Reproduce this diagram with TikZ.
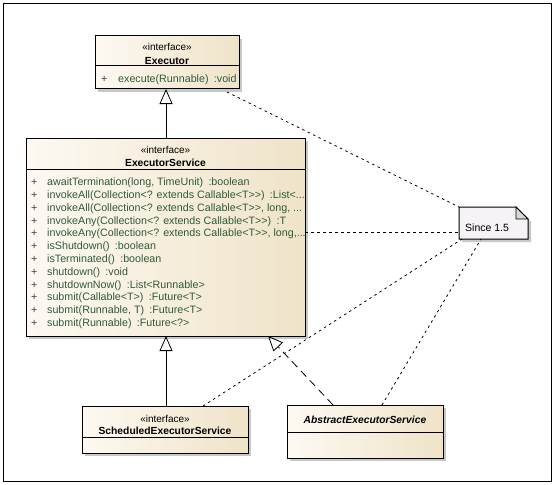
\documentclass[tikz,border=0pt]{standalone}
\usepackage{fontspec}
\setmainfont{Liberation Sans}
\usetikzlibrary{arrows.meta,shadows,calc}
\definecolor{boxL}{HTML}{FDF9F2}
\definecolor{boxR}{HTML}{EFE3C8}
\definecolor{mtext}{HTML}{2F5A3A}
\definecolor{notefill}{HTML}{F5F3F5}
\definecolor{foldfill}{HTML}{D6D6D6}
\definecolor{shadowc}{HTML}{C8C8C8}
\newcommand{\tdots}{...}
\newcommand{\gtgt}{>{}>}
\begin{document}
\begin{tikzpicture}[x=1pt,y=-1pt,
  umlbox/.style={draw=black, line width=1pt, left color=boxL, right color=boxR,
    anchor=north west, inner sep=0pt, outer sep=0pt,
    drop shadow={shadow xshift=3pt, shadow yshift=-3pt, fill=shadowc, opacity=1}},
  sep/.style={draw=black, line width=1pt},
  stereo/.style={font=\fontsize{10}{12}\selectfont, inner sep=0pt, anchor=base},
  cname/.style={font=\bfseries\fontsize{10.3}{12}\selectfont, inner sep=0pt, anchor=base},
  meth/.style={font=\fontsize{10.7}{12}\selectfont, text=mtext, inner sep=0pt, anchor=base west},
  plus/.style={font=\fontsize{10.7}{12}\selectfont, text=black!75, inner sep=0pt, anchor=base west},
  notetext/.style={font=\fontsize{10.5}{12}\selectfont, inner sep=0pt, anchor=base west},
  gen/.style={line width=0.8pt, -{Triangle[open, length=15pt, width=13pt]}},
  real/.style={line width=0.8pt, dash pattern=on 8pt off 5pt, -{Triangle[open, length=15pt, width=13pt]}},
  notelink/.style={line width=0.8pt, dash pattern=on 2.5pt off 3.5pt}]
\useasboundingbox (0,0) rectangle (553,484);
\draw[line width=1pt] (3.5,3.5) rectangle (551.5,481.5);

% Executor
\node[umlbox, minimum width=144pt, minimum height=53pt] (exec) at (95,36) {};
\draw[sep] (exec.west |- 0,66) -- (exec.east |- 0,66);
\node[stereo] (execst) at (167,50.7) {«interface»};
\node[cname] (execnm) at (167,64.7) {Executor};
\node[plus] (execp) at (101,82.7) {+};
\node[meth] (execm) at (118,82.7) {execute(Runnable)\enspace:void};

% ExecutorService
\node[umlbox, minimum width=279pt, minimum height=198pt] (esvc) at (26,138) {};
\draw[sep] (esvc.west |- 0,169) -- (esvc.east |- 0,169);
\node[stereo] (esst) at (165.5,153.7) {«interface»};
\node[cname] (esnm) at (165.5,166.7) {ExecutorService};
\foreach \t [count=\i] in {
  {awaitTermination(long, TimeUnit)\enspace:boolean},
  {invokeAll(Collection<? extends Callable<T\gtgt)\enspace:List<\tdots},
  {invokeAll(Collection<? extends Callable<T\gtgt, long, \tdots},
  {invokeAny(Collection<? extends Callable<T\gtgt)\enspace:T},
  {invokeAny(Collection<? extends Callable<T\gtgt, long,\tdots},
  {isShutdown()\enspace:boolean},
  {isTerminated()\enspace:boolean},
  {shutdown()\enspace:void},
  {shutdownNow()\enspace:List<Runnable>},
  {submit(Callable<T>)\enspace:Future<T>},
  {submit(Runnable, T)\enspace:Future<T>},
  {submit(Runnable)\enspace:Future<?>}} {
  \node[plus] (esp\i) at (31,{185.7+(\i-1)*12.8}) {+};
  \node[meth] (esm\i) at (47,{185.7+(\i-1)*12.8}) {\t};
}

% ScheduledExecutorService
\node[umlbox, minimum width=166pt, minimum height=47pt] (sched) at (82,406) {};
\draw[sep] (sched.west |- 0,437) -- (sched.east |- 0,437);
\node[stereo] (schst) at (165,422.7) {«interface»};
\node[cname] (schnm) at (165,434.7) {ScheduledExecutorService};

% AbstractExecutorService
\node[umlbox, minimum width=156pt, minimum height=53pt] (abs) at (287,405) {};
\draw[sep] (abs.west |- 0,432) -- (abs.east |- 0,432);
\node[cname, font=\bfseries\itshape\fontsize{10.3}{12}\selectfont] (absnm) at (365,423.7) {AbstractExecutorService};

% Note
\node[minimum width=69pt, minimum height=32pt, anchor=north west, inner sep=0pt, outer sep=0pt] (note) at (459,207) {};
\fill[shadowc] ($(note.north west)+(3,3)$) -- ($(note.north east)+(-9,3)$) -- ($(note.north east)+(3,15)$) -- ($(note.south east)+(3,3)$) -- ($(note.south west)+(3,3)$) -- cycle;
\draw[line width=1pt, fill=notefill] (note.north west) -- ($(note.north east)+(-12,0)$) -- ($(note.north east)+(0,12)$) -- (note.south east) -- (note.south west) -- cycle;
\draw[line width=0.8pt, fill=foldfill] ($(note.north east)+(-12,0)$) -- ($(note.north east)+(-12,12)$) -- ($(note.north east)+(0,12)$) -- cycle;
\node[notetext] (notetxt) at (465,231) {Since 1.5};

% Generalizations
\draw[gen] ($(esvc.north west)+(140,0)$) -- ($(exec.south west)+(71,0)$);
\draw[gen] ($(sched.north west)+(84,0)$) -- ($(esvc.south west)+(140,0)$);
\draw[real] ($(abs.north west)+(46,0)$) -- ($(esvc.south west)+(242,0)$);

% Note links
\draw[notelink] ($(exec.south east)+(-12,3)$) -- (note.north west);
\draw[notelink] ($(esvc.north east)+(0,94)$) -- ($(note.north west)+(0,25)$);
\draw[notelink] ($(sched.north west)+(121,0)$) -- ($(note.south west)+(3,0)$);
\draw[notelink] ($(abs.north west)+(95,0)$) -- ($(note.south west)+(22,0)$);
\end{tikzpicture}
\end{document}
